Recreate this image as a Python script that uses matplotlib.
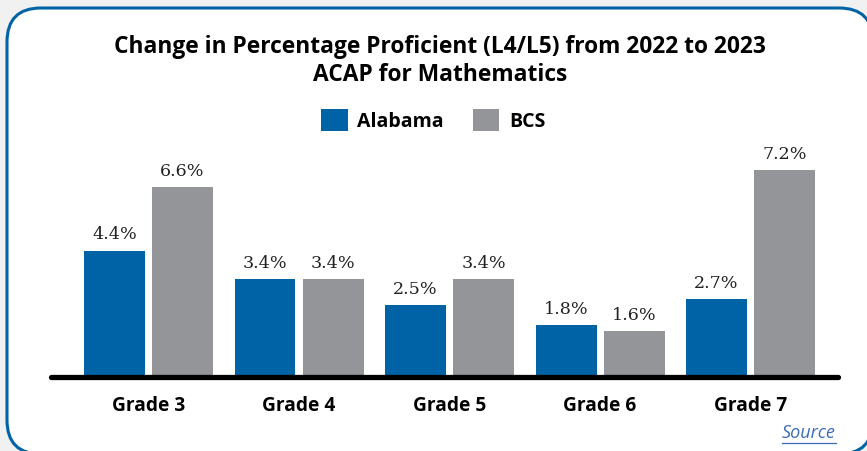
import numpy as np
import matplotlib.pyplot as plt
from matplotlib.patches import FancyBboxPatch

grades = ['Grade 3', 'Grade 4', 'Grade 5', 'Grade 6', 'Grade 7']
alabama = [4.4, 3.4, 2.5, 1.8, 2.7]
bcs = [6.6, 3.4, 3.4, 1.6, 7.2]

blue = '#0063a6'
gray = '#939598'
plt.rcParams['font.family'] = ['Open Sans', 'DejaVu Sans']

W, H = 867, 452
fig = plt.figure(figsize=(W / 100, H / 100), dpi=100, facecolor='#f1f1f1')

# background card in pixel coordinates
bg = fig.add_axes([0, 0, 1, 1], zorder=0)
bg.set_xlim(0, W)
bg.set_ylim(H, 0)
bg.axis('off')
bg.add_patch(FancyBboxPatch((5, 9), 868, 448, boxstyle='round,pad=0,rounding_size=34',
                            fc='#e6e6e6', ec='none', alpha=0.6))
bg.add_patch(FancyBboxPatch((7, 9), 866, 446, boxstyle='round,pad=0,rounding_size=34',
                            fc='white', ec=blue, lw=2.2))

bg.text(440, 47, 'Change in Percentage Proficient (L4/L5) from 2022 to 2023',
        ha='center', va='center', fontsize=16.4, fontweight='bold')
bg.text(440, 75, 'ACAP for Mathematics', ha='center', va='center',
        fontsize=16.4, fontweight='bold')
bg.text(836, 433, 'Source', ha='right', va='center', fontsize=13,
        style='italic', color='#3b6db3')
bg.plot([782, 836], [444, 444], color='#3b6db3', lw=0.9)

# chart axes
ax_l, ax_r, base = 51, 838, 378
ax = fig.add_axes([ax_l / W, (H - base) / H, (ax_r - ax_l) / W, 230 / H], zorder=1)
ax.patch.set_alpha(0)
x = np.arange(len(grades))
w = 0.405
off = 0.226
b1 = ax.bar(x - off, alabama, w, color=blue, label='Alabama')
b2 = ax.bar(x + off, bcs, w, color=gray, label='BCS')
for bars, vals in [(b1, alabama), (b2, bcs)]:
    for b, v in zip(bars, vals):
        ax.annotate(f'{v}%', (b.get_x() + b.get_width() / 2, v), xytext=(0, 6),
                    textcoords='offset points', ha='center', va='bottom',
                    fontsize=12.6, family='DejaVu Serif', color='#222222')
ax.set_xlim(-0.648, 4.581)
ax.set_ylim(0, 8)
ax.axhline(0, color='black', lw=3.8, solid_capstyle='round', clip_on=False)
for s in ax.spines.values():
    s.set_visible(False)
ax.set_yticks([])
ax.set_xticks(x)
ax.set_xticklabels(grades, fontsize=13.8, fontweight='bold')
ax.tick_params(axis='x', length=0, pad=13)

fig.legend(handles=[b1, b2], loc='center', bbox_to_anchor=(0.5, 1 - 121 / H), ncol=2,
           frameon=False, prop={'size': 14, 'weight': 'bold'}, handlelength=1.35,
           handleheight=1.35, handletextpad=0.5, columnspacing=1.5)

fig.savefig('out.png', dpi=100, facecolor=fig.get_facecolor())
